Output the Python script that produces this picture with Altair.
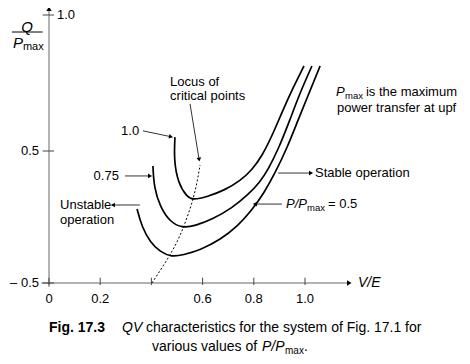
import altair as alt
import pandas as pd

FONT = "Liberation Sans"

# ---- data (V/E, Q/Pmax) ----
c100_x = [0.492, 0.488, 0.504, 0.539, 0.5625, 0.617, 0.6875, 0.746, 0.793, 0.832, 0.871, 0.914, 0.953, 0.996]
c100_y = [0.551, 0.432, 0.258, 0.152, 0.129, 0.152, 0.205, 0.273, 0.356, 0.462, 0.555, 0.651, 0.732, 0.8125]
c075_x = [0.406, 0.410, 0.434, 0.473, 0.520, 0.570, 0.641, 0.715, 0.777, 0.824, 0.855, 0.898, 0.941, 0.980, 1.027]
c075_y = [0.386, 0.227, 0.076, -0.038, -0.083, -0.068, -0.015, 0.068, 0.167, 0.265, 0.356, 0.511, 0.614, 0.713, 0.8125]
c050_x = [0.344, 0.363, 0.395, 0.434, 0.480, 0.523, 0.590, 0.668, 0.738, 0.793, 0.840, 0.883, 0.930, 0.973, 1.016, 1.059]
c050_y = [0.061, -0.076, -0.189, -0.265, -0.303, -0.288, -0.250, -0.174, -0.068, 0.053, 0.182, 0.333, 0.511, 0.614, 0.713, 0.8125]
locus_x = [0.402, 0.441, 0.480, 0.512, 0.539, 0.5625, 0.578, 0.590]
locus_y = [-0.5, -0.386, -0.265, -0.144, -0.008, 0.129, 0.258, 0.394]

x_tick_vals = [0.0, 0.2, 0.4, 0.6, 0.8, 1.0]
x_label_vals = [0.0, 0.2, 0.6, 0.8, 1.0]
x_label_txt = ["0", "0.2", "0.6", "0.8", "1.0"]
y_tick_vals = [-0.5, 0.5, 1.0]

# annotation arrows: start x, start y, end x, end y, head angle
arr_x1 = [0.551, 0.367, 0.297, 0.355, 0.895, 0.910]
arr_y1 = [0.673, 0.574, 0.311, 0.091, 0.333, 0.098]
arr_x2 = [0.586, 0.474, 0.392, 0.252, 1.021, 0.807]
arr_y2 = [0.440, 0.553, 0.311, 0.091, 0.333, 0.098]
arr_ang = [171, 102, 90, 270, 90, 270]

# ---- scales ----
xs = alt.Scale(domain=[0, 1], range=[41, 297], nice=False, zero=False)
ys = alt.Scale(domain=[-0.5, 0.5, 1.0], range=[275, 143, 7], nice=False, zero=False)


def X(f):
    return alt.X(f, type="quantitative", scale=xs, axis=None)


def Y(f):
    return alt.Y(f, type="quantitative", scale=ys, axis=None)


def txt(x, y, s, size=13, style="normal", weight="normal", align="left", dx=0, dy=0):
    df = pd.DataFrame({"x": [x], "y": [y], "t": [s]})
    return alt.Chart(df).mark_text(
        font=FONT, fontSize=size, fontStyle=style, fontWeight=weight,
        align=align, baseline="middle", dx=dx, dy=dy, color="black"
    ).encode(x=X("x"), y=Y("y"), text="t:N")


rows = []
for name, xv, yv in [("1.0", c100_x, c100_y), ("0.75", c075_x, c075_y), ("0.5", c050_x, c050_y)]:
    for i, (a, b) in enumerate(zip(xv, yv)):
        rows.append({"curve": name, "x": a, "y": b, "o": i})
curves_df = pd.DataFrame(rows)

curves = alt.Chart(curves_df).mark_line(
    interpolate="basis", color="black", strokeWidth=1.7
).encode(x=X("x"), y=Y("y"), detail="curve:N", order="o:Q")

locus = alt.Chart(pd.DataFrame({"x": locus_x, "y": locus_y, "o": list(range(len(locus_x)))})).mark_line(
    interpolate="basis", color="black", strokeWidth=1, strokeDash=[2, 2]
).encode(x=X("x"), y=Y("y"), order="o:Q")

# axes
axes_df = pd.DataFrame({"x": [-0.03, 0.0], "y": [-0.5, -0.53], "x2": [1.175, 0.0], "y2": [-0.5, 1.03]})
axes = alt.Chart(axes_df).mark_rule(color="#666", strokeWidth=1).encode(
    x=X("x"), y=Y("y"), x2="x2", y2="y2")
ax_heads = alt.Chart(pd.DataFrame({"x": [1.17, 0.0], "y": [-0.5, 1.02], "a": [90, 0]})).mark_point(
    shape="triangle", filled=True, color="black", size=28, opacity=1
).encode(x=X("x"), y=Y("y"), angle=alt.Angle("a:Q", scale=None))

xt = alt.Chart(pd.DataFrame({"x": x_tick_vals, "y": [-0.515] * len(x_tick_vals), "y2": [-0.46] * len(x_tick_vals)})).mark_rule(
    color="#444", strokeWidth=1).encode(x=X("x"), y=Y("y"), y2="y2")
yt = alt.Chart(pd.DataFrame({"x": [-0.025] * 3, "x2": [0.02] * 3, "y": y_tick_vals})).mark_rule(
    color="#444", strokeWidth=1).encode(x=X("x"), x2="x2", y=Y("y"))

xl = alt.Chart(pd.DataFrame({"x": x_label_vals, "y": [-0.5] * len(x_label_vals), "t": x_label_txt})).mark_text(
    font=FONT, fontSize=13, align="center", baseline="middle", dy=16, color="black"
).encode(x=X("x"), y=Y("y"), text="t:N")

arr_df = pd.DataFrame({"x": arr_x1, "y": arr_y1, "x2": arr_x2, "y2": arr_y2, "a": arr_ang})
arr_lines = alt.Chart(arr_df).mark_rule(color="#333", strokeWidth=1).encode(
    x=X("x"), y=Y("y"), x2="x2", y2="y2")
arr_heads = alt.Chart(arr_df).mark_point(
    shape="triangle", filled=True, color="black", size=22, opacity=1
).encode(x=X("x2"), y=Y("y2"), angle=alt.Angle("a:Q", scale=None))

ylab_line = alt.Chart(pd.DataFrame({"x": [-0.145], "x2": [-0.025], "y": [0.9375]})).mark_rule(
    color="black", strokeWidth=1).encode(x=X("x"), x2="x2", y=Y("y"))

texts = [
    # y-axis title
    txt(-0.086, 0.955, "Q", size=15, style="italic", align="center"),
    txt(-0.141, 0.897, "P", size=15, style="italic"),
    txt(-0.141, 0.897, "max", size=11, dx=10, dy=4),
    # y tick labels
    txt(0.031, 1.0, "1.0", size=13),
    txt(-0.039, 0.5, "0.5", size=13, align="right"),
    txt(-0.039, -0.5, "– 0.5", size=13, align="right"),
    # x axis title
    txt(1.207, -0.5, "V/E", size=14, style="italic"),
    # annotations
    txt(0.473, 0.754, "Locus of", size=13),
    txt(0.473, 0.702, "critical points", size=13),
    txt(0.352, 0.574, "1.0", size=13, align="right"),
    txt(0.273, 0.311, "0.75", size=13, align="right"),
    txt(0.043, 0.091, "Unstable", size=13),
    txt(0.043, -0.023, "operation", size=13),
    txt(1.039, 0.333, "Stable operation", size=13),
    txt(0.926, 0.098, "P/P", size=13, style="italic"),
    txt(0.926, 0.098, "max", size=9.5, dx=21, dy=4),
    txt(0.926, 0.098, "= 0.5", size=13, dx=42),
    txt(1.121, 0.717, "P", size=13, style="italic"),
    txt(1.121, 0.717, "max", size=9.5, dx=9, dy=4),
    txt(1.121, 0.717, "is the maximum", size=13, dx=30),
    txt(1.125, 0.658, "power transfer at upf", size=13),
    # caption
    txt(0.0, -0.841, "Fig. 17.3", size=14, weight="bold"),
    txt(0.0, -0.841, "QV", size=14, style="italic", dx=73),
    txt(0.0, -0.841, "characteristics for the system of Fig. 17.1 for", size=14, dx=97),
    txt(0.0, -0.985, "various values of", size=14, dx=103),
    txt(0.0, -0.985, "P/P", size=14, style="italic", dx=213),
    txt(0.0, -0.985, "max", size=10, dx=236, dy=4),
    txt(0.0, -0.985, ".", size=14, dx=255),
]

chart = alt.layer(
    axes, xt, yt, ax_heads, locus, curves, arr_lines, arr_heads, ylab_line, xl, *texts
).properties(
    width=454, height=348, autosize=alt.AutoSizeParams(type="none"), padding=0, background="white"
).configure_view(stroke=None)

chart.save("out.html", embed_options={"renderer": "svg", "actions": False})
